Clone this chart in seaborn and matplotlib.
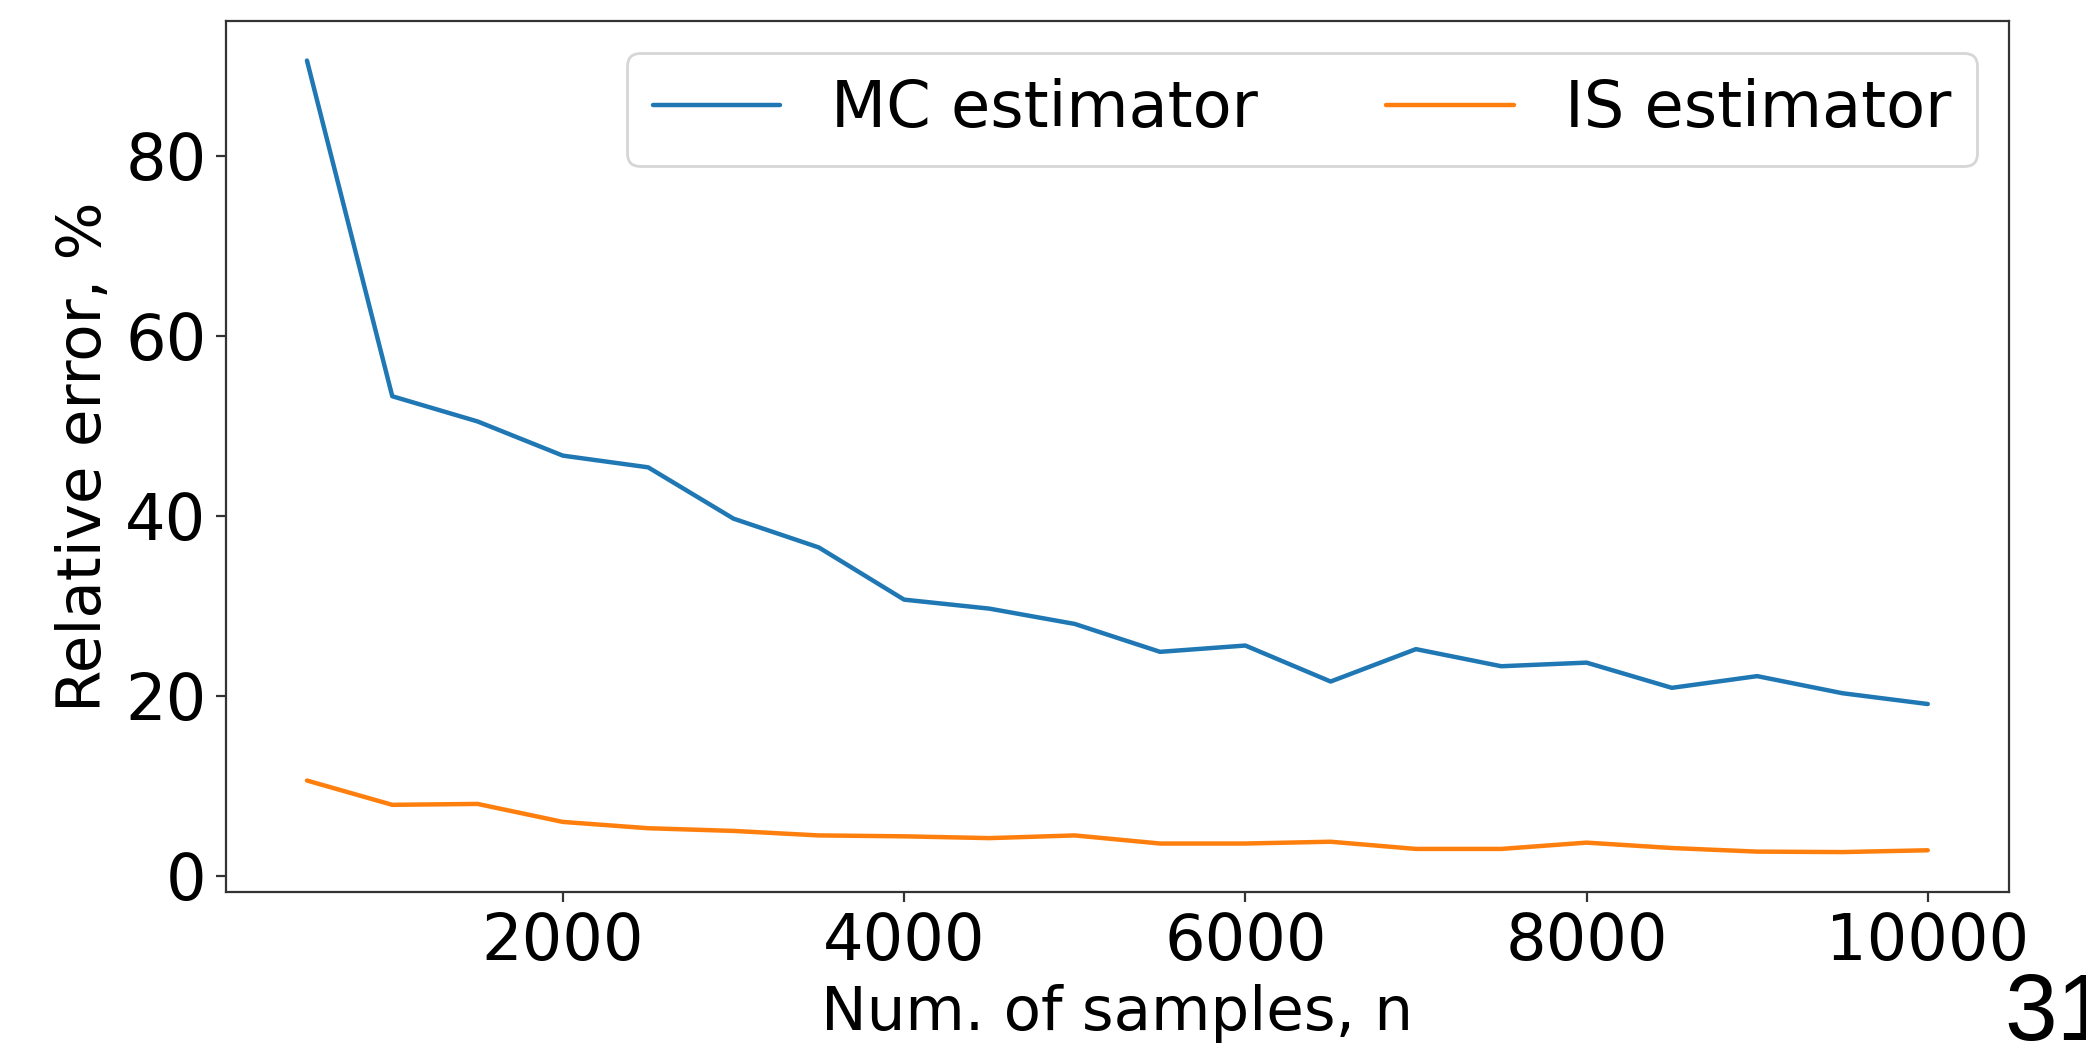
import numpy as np
import pandas as pd
import matplotlib
matplotlib.use("Agg")
import matplotlib.pyplot as plt
import seaborn as sns

# Number of samples used for each estimate
n_samples = [500, 1000, 1500, 2000, 2500, 3000, 3500, 4000, 4500, 5000,
             5500, 6000, 6500, 7000, 7500, 8000, 8500, 9000, 9500, 10000]

# Relative error (%) of the plain Monte Carlo estimator
mc_error = [90.6, 53.3, 50.5, 46.7, 45.4, 39.7, 36.5, 30.7, 29.7, 28.0,
            24.9, 25.6, 21.6, 25.2, 23.3, 23.7, 20.9, 22.2, 20.3, 19.1]

# Relative error (%) of the importance sampling estimator
is_error = [10.6, 7.9, 8.0, 6.0, 5.3, 5.0, 4.5, 4.4, 4.2, 4.5,
            3.6, 3.6, 3.8, 3.0, 3.0, 3.7, 3.1, 2.7, 2.65, 2.85]

series_names = ["MC estimator", "IS estimator"]
series_colors = ["#1f77b4", "#ff7f0e"]

df = pd.concat([
    pd.DataFrame({"n": n_samples, "error": mc_error, "estimator": series_names[0]}),
    pd.DataFrame({"n": n_samples, "error": is_error, "estimator": series_names[1]}),
], ignore_index=True)

sns.set_theme(style="ticks", rc={
    "axes.edgecolor": "0.2",
    "axes.linewidth": 0.8,
    "axes.labelcolor": "black",
    "text.color": "black",
    "xtick.major.size": 3.5,
    "ytick.major.size": 3.5,
    "xtick.major.width": 0.8,
    "ytick.major.width": 0.8,
    "xtick.color": "0.2",
    "ytick.color": "0.2",
    "xtick.labelcolor": "black",
    "ytick.labelcolor": "black",
    "xtick.major.pad": 3.5,
    "ytick.major.pad": 3.5,
})
plt.rcParams["font.family"] = ["DejaVu Sans"]

fig = plt.figure(figsize=(10.43, 5.245), dpi=200)
ax = fig.add_axes([0.1083, 0.150, 0.8547, 0.830])

sns.lineplot(data=df, x="n", y="error", hue="estimator",
             palette=dict(zip(series_names, series_colors)),
             linewidth=1.6, ax=ax, estimator=None)

ax.set_xticks([2000, 4000, 6000, 8000, 10000])
ax.set_yticks([0, 20, 40, 60, 80])
ax.tick_params(axis="both", labelsize=23)
ax.set_xlabel("Num. of samples, n", fontsize=22, color="black")
ax.set_ylabel("Relative error, %", fontsize=22, color="black")
for side in ["top", "right"]:
    ax.spines[side].set_visible(True)

leg = ax.legend(loc="upper right", ncol=2, fontsize=23, frameon=True,
                title=None, handlelength=2.0, columnspacing=2.0,
                fancybox=True, framealpha=0.8, edgecolor="0.8")
for t in leg.get_texts():
    t.set_color("black")

# Page number at the lower right corner
fig.text(2004 / 2086, 1 - 1040 / 1049, "31", fontsize=34,
         family="Liberation Sans", color="black", ha="left", va="baseline")

fig.savefig("out.png", dpi=200)
